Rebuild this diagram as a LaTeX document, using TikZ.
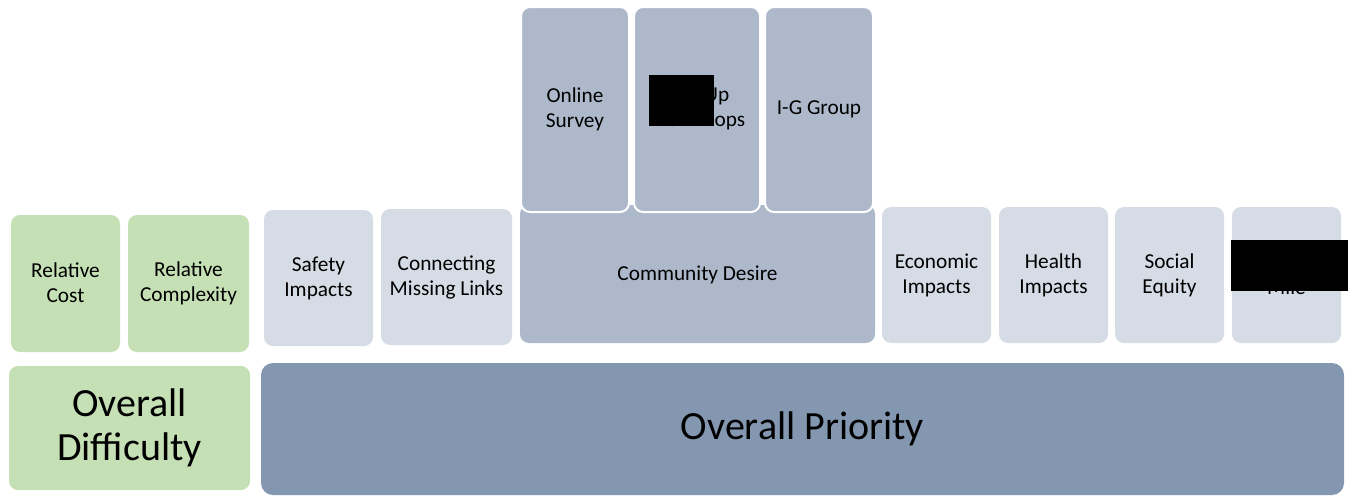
\documentclass[tikz,border=0pt]{standalone}
\usepackage{fontspec}
\setmainfont{Carlito}
\begin{document}
\begin{tikzpicture}[x=1pt,y=-1pt,
  box/.style={rounded corners=9pt},
  lbl/.style={font=\fontsize{21.3}{25}\selectfont,align=center,text=black},
  big/.style={font=\fontsize{40}{44}\selectfont,align=center,text=black},
  green/.style={box,fill=cgreen},
  light/.style={box,fill=clight},
  mid/.style={box,fill=cmid},
  dark/.style={box,fill=cdark,rounded corners=12pt},
]
\definecolor{cgreen}{HTML}{C5E0B4}
\definecolor{clight}{HTML}{D6DCE5}
\definecolor{cmid}{HTML}{ADB9CA}
\definecolor{cdark}{HTML}{8497B0}
\useasboundingbox (0,0) rectangle (1351,496);
% green
\fill[green] (11,215) rectangle (120,352);
\node[lbl] (rc) at (65.5,283) {Relative\\Cost};
\fill[green] (128,215) rectangle (249,352);
\node[lbl] (rx) at (188.5,283) {Relative\\Complexity};
\fill[green] (9,366) rectangle (250,490);
\node[big] (od) at (129.5,428) {Overall\\Difficulty};
% light
\fill[light] (264,210) rectangle (373,346);
\node[lbl] (si) at (318.5,278) {Safety\\Impacts};
\fill[light] (381,209) rectangle (512,345);
\node[lbl] (cm) at (446.5,277) {Connecting\\Missing Links};
% community desire
\fill[mid] (520,205) rectangle (875,343);
\node[lbl] (cd) at (697.5,275) {Community Desire};
\filldraw[mid,draw=white,line width=2pt] (521,7) rectangle (629,212);
\node[lbl] (os) at (575,109) {Online\\Survey};
\filldraw[mid,draw=white,line width=2pt] (634,7) rectangle (760,212);
\node[lbl] (pw) at (697,109) {Pop-Up\\Workshops};
\fill[black] (649,75) rectangle (714,126);
\filldraw[mid,draw=white,line width=2pt] (765,7) rectangle (873,212);
\node[lbl] (ig) at (819,109) {I-G Group};
% right light
\fill[light] (882,207) rectangle (991,343);
\node[lbl] (ei) at (936.5,275) {Economic\\Impacts};
\fill[light] (999,207) rectangle (1108,343);
\node[lbl] (hi) at (1053.5,275) {Health\\Impacts};
\fill[light] (1115,207) rectangle (1224,343);
\node[lbl] (se) at (1169.5,275) {Social\\Equity};
\fill[light] (1232,207) rectangle (1341,343);
\node[lbl] (fl) at (1286.5,275) {First/Last\\Mile};
\fill[black] (1231,240) rectangle (1348,291);
% overall priority
\fill[dark] (261,363) rectangle (1344,495);
\node[big] (op) at (802.5,429) {Overall Priority};
\end{tikzpicture}
\end{document}
